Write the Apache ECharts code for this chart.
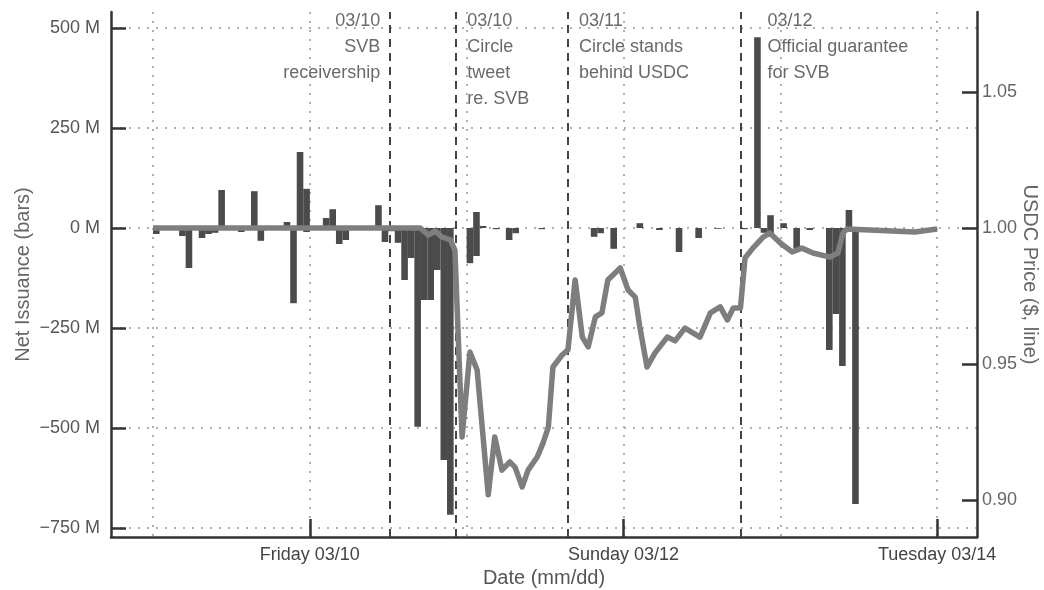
<!DOCTYPE html>
<html>
<head>
<meta charset="utf-8">
<title>USDC net issuance and price</title>
<script src="https://cdn.jsdelivr.net/npm/echarts@6/dist/echarts.min.js"></script>
<style>
  html, body { margin: 0; padding: 0; background: #fff; }
  #chart { width: 1044px; height: 590px; }
</style>
</head>
<body>
<div id="chart"></div>
<script>
// all times are hours counted from Thursday 03/09 00:00
const barHours = [0, 4, 5, 7, 8, 9, 10, 11, 12, 13, 15, 16, 19, 20, 21, 22, 23, 25, 26, 27,
  28, 29, 31, 34, 35, 36, 37, 38, 39, 40, 41, 42, 43, 44, 45, 48, 49, 50, 52, 54,
  55, 59, 67, 68, 70, 74, 77, 80, 83, 86, 90, 92, 93, 94, 96, 98, 100, 103, 104, 105,
  106, 107, 108];
const netIssuance = [-15, -20, -100, -25, -15, -12, 95, -5, -5, -10, 92, -32, -5, 15, -188, 190, 98, -5, 25, 47,
  -40, -30, 5, 57, -35, -8, -37, -130, -75, -497, -180, -180, -105, -580, -717, -88, 40, 5, -3, -30,
  -13, -3, -22, -13, -52, 12, -5, -60, -25, -2, -3, 477, -12, 32, 12, -50, -5, -305, -215, -345,
  45, -690, -3];
// hours where a second bar shows on the other side of zero
const otherHours = [11, 23, 49, 94];
const otherIssuance = [5, -10, -70, -22];

const priceHours = [0, 40.9, 42.1, 43.2, 44.2, 45.5, 46.2, 47.3, 48.5, 49.6,
  51.3, 52.3, 53.4, 54.6, 55.4, 56.5, 57.4, 58.8, 59.7, 60.5,
  61.2, 62.6, 63.5, 64.6, 65.7, 66.6, 67.7, 68.7, 69.6, 71.5,
  72.7, 73.8, 74.5, 75.6, 76.8, 78.7, 79.9, 81.4, 83.7, 85.3,
  86.8, 87.9, 88.8, 89.9, 90.6, 91.8, 93.4, 94.4, 96.0, 97.8,
  99.3, 101.0, 103.6, 104.8, 105.6, 106.2, 116.6, 120];
const usdcPrice = [1.000, 1.000, 0.9974, 0.9989, 0.9967, 0.9956, 0.9919, 0.9232, 0.9544, 0.9478,
  0.9019, 0.9232, 0.9110, 0.9140, 0.9121, 0.9048, 0.9110, 0.9158, 0.9210, 0.9268,
  0.9489, 0.9533, 0.9552, 0.9809, 0.9599, 0.9563, 0.9673, 0.9688, 0.9809, 0.9853,
  0.9772, 0.9746, 0.9636, 0.9489, 0.9540, 0.9599, 0.9585, 0.9632, 0.9599, 0.9688,
  0.9710, 0.9662, 0.9706, 0.9706, 0.9890, 0.9926, 0.9967, 0.9982, 0.9945, 0.9912,
  0.9926, 0.9908, 0.9893, 0.9908, 0.9982, 0.9996, 0.9985, 0.9996];

const eventHours = [36.3, 46.4, 63.5, 89.9];
const eventNotes = ['03/10\nSVB\nreceivership', '03/10\nCircle\ntweet\nre. SVB',
  '03/11\nCircle stands\nbehind USDC', '03/12\nOfficial guarantee\nfor SVB'];

const issuanceTicks = [-750, -500, -250, 0, 250, 500];
const priceTicks = [0.90, 0.95, 1.00, 1.05];
const dayGrid = [0, 24, 48, 72, 96, 120];
const dayTicks = [24, 72, 120];
const dayLabels = ['Friday 03/10', 'Sunday 03/12', 'Tuesday 03/14'];

const font = 'Liberation Sans, Arial, sans-serif';
const xMin = -6.43, xMax = 126.1;
const axisDark = { color: '#333', width: 2.5 };
const dotted = { color: '#b0b0b0', width: 2, type: [2, 7] };

const chart = echarts.init(document.getElementById('chart'));

const noteOffsets = [[-10, -4, 'right'], [11, -4, 'left'], [11, -4, 'left'], [27, -4, 'left']];

chart.setOption({
  animation: false,
  backgroundColor: '#fff',
  grid: { left: 111, right: 67, top: 12, bottom: 53, outerBoundsMode: 'none' },
  xAxis: [{
    type: 'value', min: xMin, max: xMax, position: 'bottom',
    axisLine: { show: true, onZero: false, lineStyle: axisDark },
    axisTick: { show: true, inside: true, length: 18, customValues: dayTicks, lineStyle: axisDark },
    axisLabel: {
      customValues: dayTicks, margin: 9, color: '#444', fontSize: 18, fontFamily: font,
      formatter: v => dayLabels[dayTicks.indexOf(v)]
    },
    splitLine: { show: false },
    name: 'Date (mm/dd)', nameLocation: 'middle', nameGap: 31, nameMoveOverlap: false,
    nameTextStyle: { color: '#555', fontSize: 20, fontFamily: font }
  }, {
    type: 'value', min: xMin, max: xMax, position: 'bottom',
    axisLine: { show: false, onZero: false },
    axisTick: { show: false, customValues: dayGrid },
    axisLabel: { show: false },
    splitLine: { show: true, lineStyle: dotted }
  }],
  yAxis: [{
    type: 'value', min: -772.5, max: 540, position: 'left',
    axisLine: { show: true, onZero: false, lineStyle: axisDark },
    axisTick: { show: true, inside: true, length: 15, customValues: issuanceTicks, lineStyle: axisDark },
    axisLabel: {
      customValues: issuanceTicks, margin: 11, color: '#555', fontSize: 18, fontFamily: font,
      formatter: v => (v < 0 ? '\u2212' + (-v) : v) + ' M'
    },
    splitLine: { show: true, lineStyle: dotted },
    name: 'Net Issuance (bars)', nameLocation: 'middle', nameGap: 78, nameMoveOverlap: false,
    nameTextStyle: { color: '#666', fontSize: 20, fontFamily: font }
  }, {
    type: 'value', min: 0.8864, max: 1.07941, position: 'right',
    axisLine: { show: true, onZero: false, lineStyle: axisDark },
    axisTick: { show: true, inside: true, length: 15, customValues: priceTicks, lineStyle: axisDark },
    axisLabel: {
      customValues: priceTicks, margin: 5, color: '#666', fontSize: 18, fontFamily: font,
      formatter: v => v.toFixed(2)
    },
    splitLine: { show: false },
    name: 'USDC Price ($, line)', nameLocation: 'middle', nameGap: 43, nameRotate: -90, nameMoveOverlap: false,
    nameTextStyle: { color: '#666', fontSize: 20, fontFamily: font }
  }],
  series: [{
    name: 'net issuance',
    type: 'bar',
    barWidth: 6.6,
    barGap: '-100%',
    itemStyle: { color: '#4b4b4b' },
    data: barHours.map((h, i) => [h + 0.5, netIssuance[i]])
  }, {
    name: 'other side',
    type: 'bar',
    barWidth: 6.6,
    barGap: '-100%',
    itemStyle: { color: '#4b4b4b' },
    data: otherHours.map((h, i) => [h + 0.5, otherIssuance[i]])
  }, {
    name: 'USDC price',
    type: 'line',
    yAxisIndex: 1,
    showSymbol: false,
    z: 5,
    lineStyle: { color: '#7e7e7e', width: 5.5, join: 'round' },
    data: priceHours.map((h, i) => [h, usdcPrice[i]])
  }, {
    name: 'events',
    type: 'scatter',
    symbolSize: 0,
    clip: false,
    silent: true,
    z: 6,
    data: eventHours.map((h, i) => ({
      value: [h, 540],
      label: {
        show: true,
        formatter: eventNotes[i],
        position: [noteOffsets[i][0], noteOffsets[i][1]],
        align: noteOffsets[i][2],
        verticalAlign: 'top',
        color: '#444', fontSize: 18, lineHeight: 26, fontFamily: font
      }
    })),
    markLine: {
      silent: true,
      symbol: ['none', 'none'],
      label: { show: false },
      lineStyle: { color: '#444', width: 2, type: [8, 6] },
      data: eventHours.map(h => ({ xAxis: h }))
    }
  }]
});
</script>
</body>
</html>
